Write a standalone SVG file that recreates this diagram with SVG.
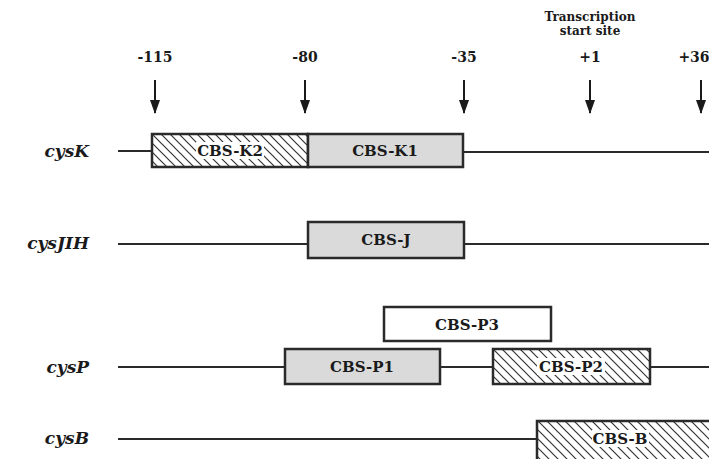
<svg xmlns="http://www.w3.org/2000/svg" width="709" height="459" viewBox="0 0 709 459">
<style>
.bg{fill:#fff}
.dna{stroke:#2a2a2a;stroke-width:2;fill:none}
.box{stroke:#2a2a2a;stroke-width:2.5}
.gray{fill:#dadada}
.hatch{fill:url(#hatch)}
.white{fill:#fff}
.lbl{font-family:"DejaVu Serif","Liberation Serif",serif;font-weight:bold;font-size:15px;fill:#1a1a1a;text-anchor:middle}
.gene{font-family:"DejaVu Serif","Liberation Serif",serif;font-weight:bold;font-style:italic;font-size:17px;fill:#1a1a1a;text-anchor:end}
.pos{font-family:"DejaVu Serif","Liberation Serif",serif;font-weight:bold;font-size:14px;fill:#1a1a1a;text-anchor:middle}
.tss{font-family:"DejaVu Serif","Liberation Serif",serif;font-weight:bold;font-size:12px;fill:#1a1a1a;text-anchor:middle}
.arr{stroke:#1a1a1a;stroke-width:2;fill:none}
.pad{fill:#fff}
</style>
<defs>
<pattern id="hatch" patternUnits="userSpaceOnUse" width="9" height="9">
<rect width="9" height="9" fill="#fff"/>
<path d="M-2,-2 L11,11 M-2,7 L2,11 M7,-2 L11,2" stroke="#333" stroke-width="1.2"/>
</pattern>
<marker id="ah" viewBox="0 0 14 10" refX="13" refY="5" markerWidth="7" markerHeight="5" orient="auto" markerUnits="strokeWidth">
<path d="M0,0 L14,5 L0,10 z" fill="#1a1a1a"/>
</marker>
</defs>
<rect class="bg" width="709" height="459"/>

<g id="scale">
<text class="tss" x="590" y="21">Transcription</text>
<text class="tss" x="590" y="35">start site</text>
<text class="pos" x="155" y="62">-115</text>
<text class="pos" x="305" y="62">-80</text>
<text class="pos" x="464" y="62">-35</text>
<text class="pos" x="590" y="62">+1</text>
<text class="pos" x="694" y="62">+36</text>
</g>

<g id="connectors">
<line class="arr" x1="155" y1="80" x2="155" y2="113" marker-end="url(#ah)"/>
<line class="arr" x1="305" y1="80" x2="305" y2="113" marker-end="url(#ah)"/>
<line class="arr" x1="464" y1="80" x2="464" y2="113" marker-end="url(#ah)"/>
<line class="arr" x1="590" y1="80" x2="590" y2="113" marker-end="url(#ah)"/>
<line class="arr" x1="701" y1="80" x2="701" y2="113" marker-end="url(#ah)"/>
</g>

<g id="cysK">
<text class="gene" x="89" y="157">cysK</text>
<line class="dna" x1="118" y1="151" x2="152" y2="151"/>
<line class="dna" x1="463" y1="152" x2="709" y2="152"/>
<rect class="box hatch" x="152" y="134" width="156" height="33"/>
<rect class="pad" x="196" y="142" width="68" height="17"/>
<rect class="box gray" x="308" y="134" width="155" height="33"/>
<text class="lbl" x="230" y="156">CBS-K2</text>
<text class="lbl" x="385" y="156">CBS-K1</text>
</g>

<g id="cysJIH">
<text class="gene" x="89" y="249">cysJIH</text>
<line class="dna" x1="118" y1="244" x2="308" y2="244"/>
<line class="dna" x1="464" y1="244" x2="709" y2="244"/>
<rect class="box gray" x="308" y="222" width="156" height="36"/>
<text class="lbl" x="386" y="245">CBS-J</text>
</g>

<g id="cysP">
<text class="gene" x="89" y="373">cysP</text>
<rect class="box white" x="384" y="307" width="167" height="34"/>
<text class="lbl" x="467" y="330">CBS-P3</text>
<line class="dna" x1="118" y1="367" x2="285" y2="367"/>
<line class="dna" x1="440" y1="367" x2="493" y2="367"/>
<line class="dna" x1="650" y1="367" x2="709" y2="367"/>
<rect class="box gray" x="285" y="349" width="155" height="35"/>
<rect class="box hatch" x="493" y="349" width="157" height="35"/>
<rect class="pad" x="537" y="358" width="68" height="17"/>
<text class="lbl" x="362" y="372">CBS-P1</text>
<text class="lbl" x="571" y="372">CBS-P2</text>
</g>

<g id="cysB">
<text class="gene" x="89" y="444">cysB</text>
<line class="dna" x1="118" y1="439" x2="537" y2="439"/>
<rect class="box hatch" x="537" y="421" width="175" height="42"/>
<rect class="pad" x="592" y="430" width="57" height="17"/>
<text class="lbl" x="620" y="444">CBS-B</text>
</g>
</svg>
